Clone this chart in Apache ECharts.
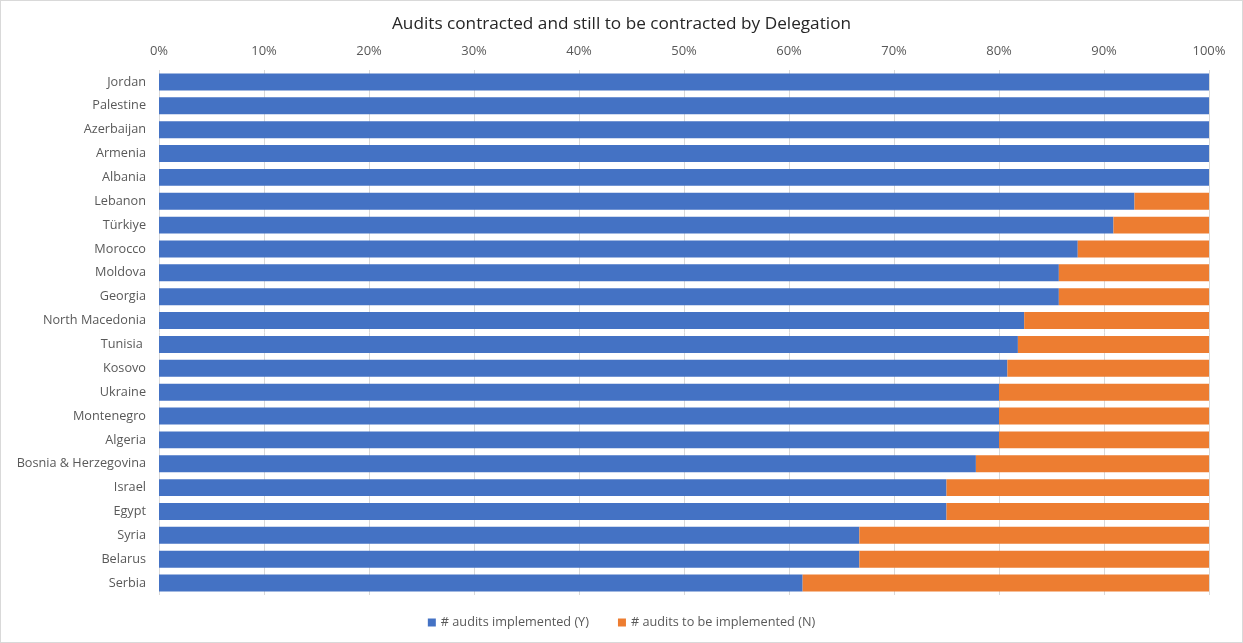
<!DOCTYPE html>
<html>
<head>
<meta charset="utf-8">
<script src="https://cdn.jsdelivr.net/npm/echarts@6/dist/echarts.min.js"></script>
<style>
  html, body { margin: 0; padding: 0; background: #fff; }
  #chart { width: 1243px; height: 643px; box-sizing: border-box; border: 1px solid #d9d9d9; }
</style>
</head>
<body>
<div id="chart"></div>
<script>
// Delegations, listed top to bottom
const delegations = [
  'Jordan', 'Palestine', 'Azerbaijan', 'Armenia', 'Albania', 'Lebanon', 'Türkiye',
  'Morocco', 'Moldova', 'Georgia', 'North Macedonia', 'Tunisia ', 'Kosovo', 'Ukraine',
  'Montenegro', 'Algeria', 'Bosnia & Herzegovina', 'Israel', 'Egypt', 'Syria',
  'Belarus', 'Serbia'
];

// Share of audits already implemented (Y), in percent
const implemented = [
  100, 100, 100, 100, 100, 92.9, 90.9,
  87.5, 85.7, 85.7, 82.4, 81.8, 80.8, 80.0,
  80.0, 80.0, 77.8, 75.0, 75.0, 66.7,
  66.7, 61.3
];

// Share of audits still to be implemented (N), in percent
const toBeImplemented = [
  0, 0, 0, 0, 0, 7.1, 9.1,
  12.5, 14.3, 14.3, 17.6, 18.2, 19.2, 20.0,
  20.0, 20.0, 22.2, 25.0, 25.0, 33.3,
  33.3, 38.7
];

const seriesNames = ['# audits implemented (Y)', '# audits to be implemented (N)'];
const chartTitle = 'Audits contracted and still to be contracted by Delegation';

const font = 'Open Sans, Noto Sans, sans-serif';
const chart = echarts.init(document.getElementById('chart'), null, { renderer: 'canvas' });

chart.setOption({
  animation: false,
  color: ['#4472C4', '#ED7D31'],
  title: {
    text: chartTitle,
    left: 'center',
    top: 10,
    textStyle: { fontFamily: font, fontSize: 17.2, fontWeight: 'normal', color: '#262626' }
  },
  legend: {
    bottom: 8,
    left: 'center',
    itemWidth: 8,
    itemHeight: 8,
    itemGap: 29,
    icon: 'rect',
    textStyle: { fontFamily: font, fontSize: 12.7, color: '#595959' },
    data: seriesNames
  },
  grid: { left: 158, right: 33, top: 69, bottom: 47 },
  xAxis: {
    type: 'value',
    position: 'top',
    min: 0,
    max: 100,
    interval: 10,
    axisLine: { show: false },
    axisTick: { show: false },
    axisLabel: {
      formatter: v => v + '%',
      fontFamily: font,
      fontSize: 13,
      color: '#595959',
      margin: 12
    },
    splitLine: { lineStyle: { color: '#d9d9d9', width: 1 } }
  },
  yAxis: {
    type: 'category',
    inverse: true,
    data: delegations,
    axisLine: { show: false },
    axisTick: { show: false },
    axisLabel: { fontFamily: font, fontSize: 12.7, color: '#595959', margin: 13 }
  },
  series: [
    {
      name: seriesNames[0],
      type: 'bar',
      stack: 'total',
      barCategoryGap: '29%',
      data: implemented
    },
    {
      name: seriesNames[1],
      type: 'bar',
      stack: 'total',
      barCategoryGap: '29%',
      data: toBeImplemented
    }
  ]
});
</script>
</body>
</html>
